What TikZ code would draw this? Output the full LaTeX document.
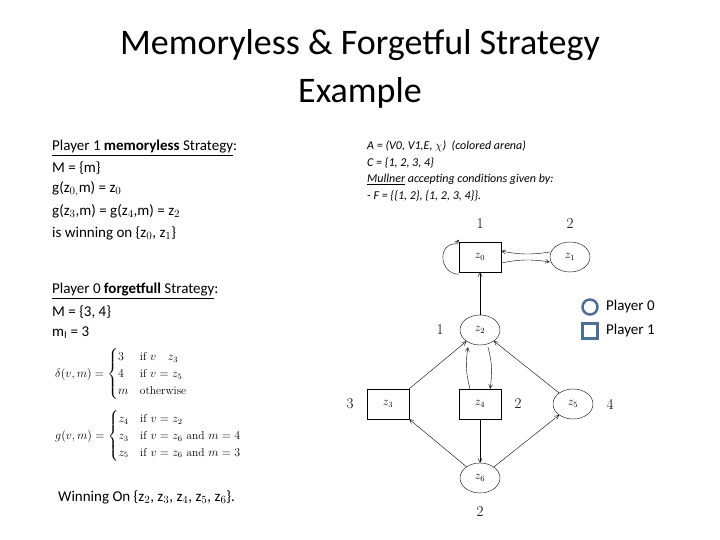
\documentclass[tikz,border=0pt]{standalone}
\usepackage{amsmath}
\usepackage{fontspec}
\setmainfont{Carlito}
\newfontfamily\lmfont{Latin Modern Roman}
\usetikzlibrary{arrows.meta,shapes.geometric}
\definecolor{legblue}{HTML}{4F6E96}
\begin{document}
\begin{tikzpicture}[x=1pt,y=-1pt,
  txt/.style={anchor=west,inner sep=0pt,font=\fontsize{15}{17}\selectfont},
  rtxt/.style={anchor=west,inner sep=0pt,font=\fontsize{12}{14}\selectfont\itshape},
  pbox/.style={draw,minimum width=42pt,minimum height=30pt,inner sep=0pt,font=\lmfont\fontsize{12}{14}\selectfont},
  pell/.style={draw,ellipse,minimum width=40pt,minimum height=30pt,inner sep=0pt,font=\lmfont\fontsize{12}{14}\selectfont},
  col/.style={inner sep=0pt,font=\lmfont\fontsize{15}{17}\selectfont},
  arr/.style={-{Straight Barb[length=4pt,width=4pt]},thin}]
\useasboundingbox (0,0) rectangle (720,540);
\node[inner sep=0pt,align=center,font=\fontsize{36}{48}\selectfont] (title) at (360,69) {Memoryless \& Forgetful Strategy\\Example};
% left text
\node[txt] (l1) at (52,148) {\underline{Player 1 \textbf{memoryless} Strategy}:};
\node[txt] (l2) at (52,168) {M = \{m\}};
\node[txt] (l3) at (52,189) {g(z$_{0,}$m) = z$_0$};
\node[txt] (l4) at (52,211) {g(z$_3$,m) = g(z$_4$,m) = z$_2$};
\node[txt] (l5) at (52,233) {is winning on \{z$_0$, z$_1$\}};
\node[txt] (l6) at (52,291) {\underline{Player 0 \textbf{forgetfull} Strategy}:};
\node[txt] (l7) at (52,312) {M = \{3, 4\}};
\node[txt] (l8) at (52,333) {m$_\mathrm{I}$ = 3};
\node[anchor=west,inner sep=0pt,font=\lmfont\fontsize{11.5}{14}\selectfont] (d) at (55,374)
 {$\delta(v,m)=\begin{cases}3 & \text{if } v\quad z_3\\ 4 & \text{if } v=z_5\\ m & \text{otherwise}\end{cases}$};
\node[anchor=west,inner sep=0pt,font=\lmfont\fontsize{11.5}{14}\selectfont] (g) at (55,436)
 {$g(v,m)=\begin{cases}z_4 & \text{if } v=z_2\\ z_3 & \text{if } v=z_6 \text{ and } m=4\\ z_5 & \text{if } v=z_6 \text{ and } m=3\end{cases}$};
\node[txt] (l9) at (58,497) {Winning On \{z$_2$, z$_3$, z$_4$, z$_5$, z$_6$\}.};
% right text
\node[rtxt] (r1) at (367,146) {A = (V0, V1,E, $\chi$)\ \ (colored arena)};
\node[rtxt] (r2) at (367,163) {C = \{1, 2, 3, 4\}};
\node[rtxt] (r3) at (367,180) {\underline{Mullner} accepting conditions given by:};
\node[rtxt] (r4) at (367,196) {- F = \{\{1, 2\}, \{1, 2, 3, 4\}\}.};
% graph
\node[pbox] (z0) at (480,257) {$z_0$};
\node[pell] (z1) at (570,257) {$z_1$};
\node[pell] (z2) at (480,330) {$z_2$};
\node[pbox] (z3) at (388,404) {$z_3$};
\node[pbox] (z4) at (480,404) {$z_4$};
\node[pell] (z5) at (573,404) {$z_5$};
\node[pell] (z6) at (480,478) {$z_6$};
\node[col] (c0) at (480,224) {1};
\node[col] (c1) at (570,224) {2};
\node[col] (c2) at (440,330) {1};
\node[col] (c3) at (350,404) {3};
\node[col] (c4) at (518,404) {2};
\node[col] (c5) at (610,404) {4};
\node[col] (c6) at (480,512) {2};
\draw[arr] ([yshift=-2pt]z0.south west) to[out=180,in=180,looseness=1.6] ([xshift=-3pt,yshift=-2pt]z0.north west) -- ([yshift=2pt]z0.north west);
\draw[arr] ([yshift=-6pt]z0.east) to[bend left=10] ([yshift=-5pt]z1.west);
\draw[arr] ([yshift=5pt]z1.west) to[bend left=10] ([yshift=6pt]z0.east);
\draw[arr] (z2) -- (z0);
\draw[arr] (z3.north east) -- (z2);
\draw[arr] (z5) -- (z2);
\draw[arr] ([xshift=-10pt]z4.north) to[bend left=12] ([xshift=-12pt,yshift=-2pt]z2.south);
\draw[arr] ([xshift=8pt,yshift=-2pt]z2.south) to[bend left=12] ([xshift=10pt]z4.north);
\draw[arr] (z4) -- (z6);
\draw[arr] (z6) -- (z3.south east);
\draw[arr] (z6) -- (z5);
% legend
\node[draw=legblue,line width=2.5pt,circle,minimum size=15pt,inner sep=0pt] (lc) at (590,307) {};
\node[draw=legblue,line width=2.5pt,minimum size=15pt,inner sep=0pt] (ls) at (590,331) {};
\node[txt] (p0) at (606,307) {Player 0};
\node[txt] (p1) at (606,330) {Player 1};
\end{tikzpicture}
\end{document}
